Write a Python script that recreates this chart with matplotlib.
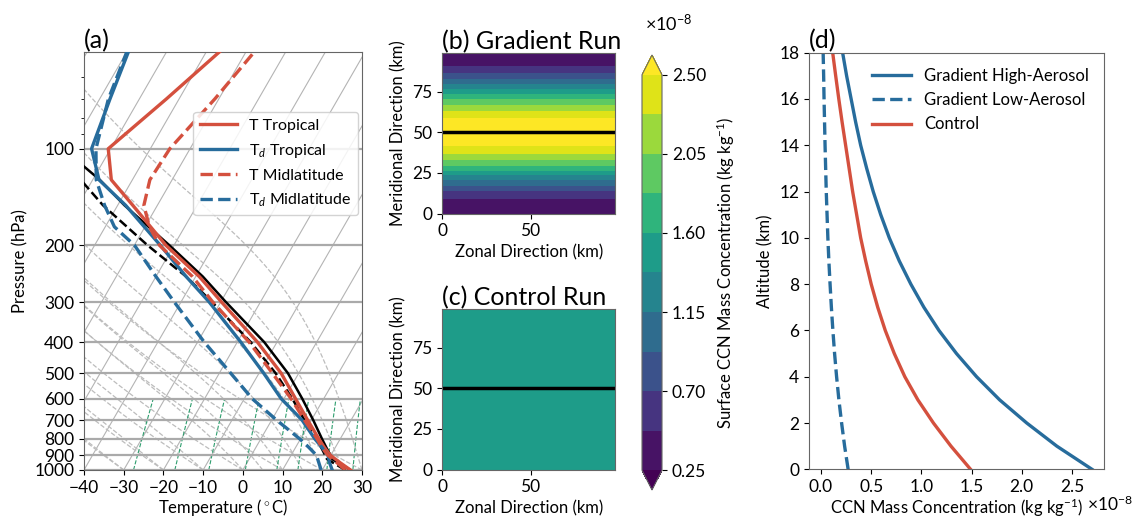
import numpy as np
import matplotlib.pyplot as plt
from matplotlib.ticker import FixedLocator, NullFormatter, FuncFormatter, FormatStrFormatter

plt.rcParams['font.family'] = ['Lato', 'DejaVu Sans']
plt.rcParams['mathtext.fontset'] = 'custom'
plt.rcParams['mathtext.rm'] = 'Lato'
plt.rcParams['mathtext.it'] = 'Lato:italic'
plt.rcParams['axes.edgecolor'] = '#666666'
plt.rcParams['xtick.labelsize'] = 12.5
plt.rcParams['ytick.labelsize'] = 12.5

RED = '#d4503e'
BLUE = '#276c9c'

# ---- panel (a): soundings (deg C on pressure levels, hPa) ----
trop_p = [1000, 950, 900, 850, 800, 700, 600, 500, 400, 300, 250, 200, 150, 125, 100, 70, 50]
trop_T = [27.1, 23.5, 19.9, 17.2, 14.6, 9.1, 2.9, -4.4, -14.9, -29.8, -39.1, -52.0, -66.2, -75.3, -80.6, -73.2, -66.7]
trop_Td = [22.5, 20.8, 19.3, 16.6, 13.6, 7.7, -0.7, -8.8, -19.1, -32.9, -42.4, -53.4, -68.0, -78.4, -84.8, -87.4, -89.6]

mid_p = [1000, 950, 900, 850, 800, 700, 600, 500, 400, 300, 250, 200, 175, 150, 125, 100, 70, 50]
mid_T = [25.8, 22.7, 19.3, 16.6, 14.2, 8.3, 1.8, -6.6, -17.0, -32.0, -40.8, -53.6, -58.9, -63.4, -65.6, -65.1, -61.0, -57.9]
mid_Td = [19.7, 18.1, 16.4, 13.3, 9.8, 1.3, -8.0, -17.1, -28.3, -41.7, -50.0, -59.9, -67.7, -73.3, -79.1, -83.7, -87.8, -90.0]

parcel_p = [1000, 925, 900, 850, 800, 700, 600, 500, 400, 300, 250, 200, 150, 125, 100]
parcel_trop = [27.1, 20.9, 19.9, 17.7, 15.4, 10.5, 4.6, -2.7, -13.2, -28.7, -38.2, -51.1, -68.3, -78.2, -92.0]
parcel_mid = [25.8, 19.6, 18.6, 16.4, 13.9, 8.3, 2.1, -5.8, -16.6, -32.2, -42.4, -56.6, -73.7, -83.0, -95.0]

# background reference lines of the skew-T (starting temperatures at 1000 hPa)
isotherms = list(range(-110, 41, 10))
dry_t0 = [-40, -30, -20, -10, 0, 10, 20, 30]
moist_t0 = [-40, -30, -20, -10, 0, 5, 10, 15, 20, 25, 30]
mixing_ratios = [0.0004, 0.001, 0.002, 0.004, 0.007, 0.01, 0.016, 0.024, 0.032]

# ---- panels (b), (c): surface CCN (x 1e-8 kg/kg) ----
zonal_km = [0, 98]
meridional_km = [0, 5, 10, 15, 20, 25, 30, 35, 40, 45, 50, 55, 60, 65, 70, 75, 80, 85, 90, 95, 100]
gradient_surface = [0.27, 0.36, 0.50, 0.78, 1.12, 1.49, 1.86, 2.17, 2.45, 2.63, 2.70,
                    2.63, 2.45, 2.17, 1.86, 1.49, 1.12, 0.78, 0.50, 0.36, 0.27]
control_surface = 1.5
levels = np.linspace(0.25, 2.5, 11)

# ---- panel (d): vertical profiles (x 1e-8 kg/kg) ----
altitude_km = list(range(0, 19))
high_aerosol = [2.70, 2.35, 2.05, 1.78, 1.55, 1.35, 1.175, 1.025, 0.895, 0.78, 0.68,
                0.595, 0.52, 0.455, 0.395, 0.345, 0.30, 0.255, 0.215]
low_aerosol = [0.27, 0.235, 0.205, 0.178, 0.155, 0.135, 0.118, 0.103, 0.09, 0.078, 0.068,
               0.06, 0.052, 0.046, 0.04, 0.035, 0.03, 0.026, 0.021]
control = [1.49, 1.295, 1.12, 0.965, 0.835, 0.73, 0.64, 0.565, 0.50, 0.445, 0.395,
           0.355, 0.315, 0.28, 0.245, 0.21, 0.177, 0.146, 0.116]

W, H = 1135, 520
fig = plt.figure(figsize=(W / 100, H / 100), dpi=100)


def rect(x0, y0, x1, y1):
    return [x0 / W, (H - y1) / H, (x1 - x0) / W, (y1 - y0) / H]


# ---------------- (a) skew-T ----------------
a_box = (84, 52, 362, 470)
ax = fig.add_axes(rect(*a_box))
P_BOT, P_TOP, T_MIN, T_MAX = 1000., 50., -40., 30.
skew = np.tan(np.radians(30)) * ((a_box[3] - a_box[1]) / np.log10(P_BOT / P_TOP)) \
    / ((a_box[2] - a_box[0]) / (T_MAX - T_MIN))


def sx(t, p):
    return np.asarray(t, float) + skew * np.log10(P_BOT / np.asarray(p, float))


p_full = np.geomspace(P_BOT, P_TOP, 400)
for t in isotherms:
    ax.plot(sx([t, t], [P_BOT, P_TOP]), [P_BOT, P_TOP], color='#b4b4b4', lw=0.8, zorder=1)

for t0 in dry_t0:
    T = (t0 + 273.15) * (p_full / 1000.) ** 0.2857 - 273.15
    ax.plot(sx(T, p_full), p_full, color='#bdbdbd', lw=0.9, ls='--', zorder=1)


def lapse(T, pr):
    Rd, Cp, Lv, eps = 287.04, 1005.7, 2.501e6, 0.622
    tc = T - 273.15
    es = 6.112 * np.exp(17.67 * tc / (tc + 243.5))
    rs = eps * es / np.maximum(pr - es, 1e-3)
    return (Rd * T + Lv * rs) / (pr * (Cp + Lv ** 2 * rs * eps / (Rd * T ** 2)))


Tm = np.array(moist_t0, float) + 273.15
moist = [Tm.copy()]
for p0, p1 in zip(p_full[:-1], p_full[1:]):
    dp = p1 - p0
    k1 = lapse(Tm, p0)
    k2 = lapse(Tm + k1 * dp, p1)
    Tm = Tm + dp * 0.5 * (k1 + k2)
    moist.append(Tm.copy())
moist = np.array(moist) - 273.15
for i in range(moist.shape[1]):
    ax.plot(sx(moist[:, i], p_full), p_full, color='#bdbdbd', lw=0.9, ls='--', zorder=1)

p_mix = np.linspace(1000, 600, 30)
for w in mixing_ratios:
    e = p_mix * w / (0.622 + w)
    lg = np.log(e / 6.112)
    td = 243.5 * lg / (17.67 - lg)
    ax.plot(sx(td, p_mix), p_mix, color='#2e9e6e', lw=0.8, ls='--', zorder=1)

ax.plot(sx(parcel_trop, parcel_p), parcel_p, color='k', lw=1.8, zorder=3)
ax.plot(sx(parcel_mid, parcel_p), parcel_p, color='k', lw=1.8, ls='--', zorder=3)
ax.plot(sx(trop_T, trop_p), trop_p, color=RED, lw=2.4, zorder=4, label='T Tropical')
ax.plot(sx(trop_Td, trop_p), trop_p, color=BLUE, lw=2.4, zorder=4, label=r'T$_d$ Tropical')
ax.plot(sx(mid_T, mid_p), mid_p, color=RED, lw=2.4, ls='--', zorder=4, label='T Midlatitude')
ax.plot(sx(mid_Td, mid_p), mid_p, color=BLUE, lw=2.4, ls='--', zorder=4, label=r'T$_d$ Midlatitude')

ax.set_yscale('log')
ax.set_ylim(P_BOT, P_TOP)
ax.set_xlim(T_MIN, T_MAX)
ax.yaxis.set_major_locator(FixedLocator(list(range(100, 1001, 100))))
ax.yaxis.set_major_formatter(FuncFormatter(lambda v, pos: '%d' % v))
ax.yaxis.set_minor_locator(FixedLocator([60, 70, 80, 90]))
ax.yaxis.set_minor_formatter(NullFormatter())
ax.set_xticks(list(range(-40, 31, 10)))
ax.grid(True, axis='y', which='major', color='#aaaaaa', lw=1.6)
for gl in ax.get_ygridlines():
    gl.set_zorder(2)
ax.set_xlabel(r'Temperature ($^\circ$C)', fontsize=12, labelpad=1)
ax.set_ylabel('Pressure (hPa)', fontsize=12)
ax.set_title('(a)', loc='left', fontsize=18, pad=3)
ax.legend(loc='upper right', bbox_to_anchor=(0.986, 0.856), borderaxespad=0,
          fontsize=11.5, handlelength=2.3, labelspacing=0.55, framealpha=0.85)

# ---------------- (b) / (c) ----------------
grad_field = np.tile(np.array(gradient_surface)[:, None], (1, len(zonal_km)))
ctrl_field = np.full((len(meridional_km), len(zonal_km)), control_surface)

axb = fig.add_axes(rect(442, 53, 615.5, 213.5))
cf = axb.contourf(zonal_km, meridional_km, grad_field, levels=levels, cmap='viridis', extend='both')
axc = fig.add_axes(rect(442, 309, 615.5, 469.5))
axc.contourf(zonal_km, meridional_km, ctrl_field, levels=levels, cmap='viridis', extend='both')

for a, title in [(axb, '(b) Gradient Run'), (axc, '(c) Control Run')]:
    a.axhline(50, color='k', lw=2.5)
    a.set_xlim(0, 98)
    a.set_ylim(0, 99)
    a.set_xticks([0, 50])
    a.set_yticks([0, 25, 50, 75])
    a.set_xlabel('Zonal Direction (km)', fontsize=12, labelpad=4)
    a.set_ylabel('Meridional Direction (km)', fontsize=12)
    a.set_title(title, loc='left', fontsize=18, pad=3)

cax = fig.add_axes(rect(642, 55, 662, 490))
cbar = fig.colorbar(cf, cax=cax, ticks=levels[::2])
cbar.ax.yaxis.set_major_formatter(FormatStrFormatter('%.2f'))
cbar.set_label(r'Surface CCN Mass Concentration (kg kg$^{-1}$)', fontsize=12, labelpad=6)
fig.text(645 / W, 1 - 23 / H, r'$\times10^{-8}$', fontsize=13, ha='left', va='center')

# ---------------- (d) ----------------
axd = fig.add_axes(rect(809, 52.7, 1104, 469.3))
axd.plot(high_aerosol, altitude_km, color=BLUE, lw=2.4, label='Gradient High-Aerosol')
axd.plot(low_aerosol, altitude_km, color=BLUE, lw=2.4, ls='--', label='Gradient Low-Aerosol')
axd.plot(control, altitude_km, color=RED, lw=2.4, label='Control')
axd.set_xlim(-0.12, 2.82)
axd.set_ylim(0, 18)
axd.set_xticks([0.0, 0.5, 1.0, 1.5, 2.0, 2.5])
axd.xaxis.set_major_formatter(FormatStrFormatter('%.1f'))
axd.set_yticks(list(range(0, 19, 2)))
axd.set_xlabel(r'CCN Mass Concentration (kg kg$^{-1}$)', fontsize=12, labelpad=1)
axd.set_ylabel('Altitude (km)', fontsize=12)
axd.set_title('(d)', loc='left', fontsize=18, pad=3)
axd.legend(loc='upper right', frameon=False, fontsize=12, handlelength=2.3)
fig.text(1087 / W, 1 - 504 / H, r'$\times10^{-8}$', fontsize=12.5, ha='left', va='center')

fig.savefig('out.png', dpi=100)
